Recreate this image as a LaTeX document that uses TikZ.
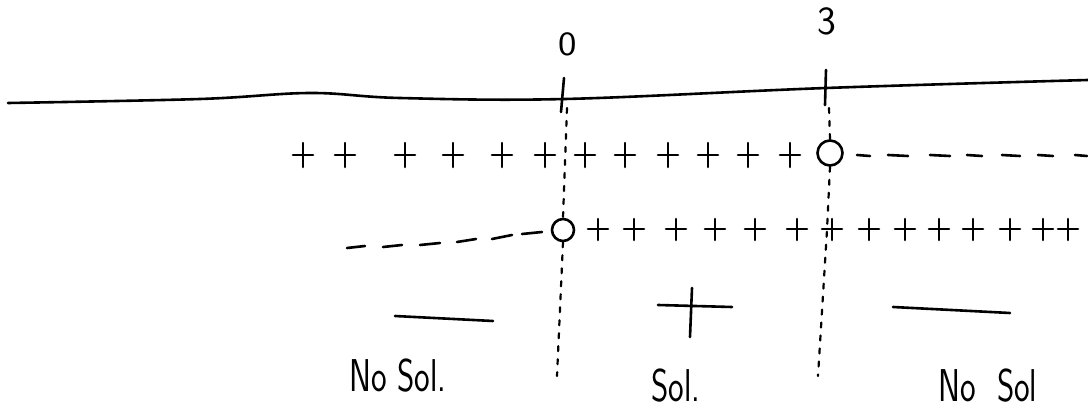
\documentclass[tikz,border=0pt]{standalone}
\usepackage{graphicx}
\begin{document}
\begin{tikzpicture}[x=1pt,y=-1pt, line cap=round, line join=round,
  pen/.style={line width=2.6pt},
  hole/.style={circle, draw, line width=2.6pt, inner sep=0pt},
  guide/.style={line width=2.2pt, dash pattern=on 5pt off 8pt},
  lbl/.style={font=\sffamily\fontsize{46}{46}\selectfont, inner sep=0pt},
  num/.style={font=\sffamily\fontsize{34}{34}\selectfont, inner sep=0pt}]
\useasboundingbox (0,0) rectangle (1088,417);
% number line
\draw[pen] plot[smooth, tension=0.6] coordinates
  {(8,103) (200,99) (310,93) (400,98) (565,99) (826,88) (1088,80)};
% ticks
\coordinate (t0a) at (564,78); \coordinate (t0b) at (561,112);
\coordinate (t3a) at (826,70); \coordinate (t3b) at (825,105);
\draw[pen] (t0a) -- (t0b);
\draw[pen] (t3a) -- (t3b);
\node[num] (l0) at (568,44) {\scalebox{1.15}[1]{0}};
\node[num, font=\sffamily\fontsize{40}{40}\selectfont] (l3) at (827,21) {3};
% holes
\node[hole, minimum size=22pt] (c0) at (563,230) {};
\node[hole, minimum size=25pt] (c3) at (830,153) {};
% guide lines
\coordinate (g0top) at (567,108); \coordinate (g0bot) at (557,376);
\coordinate (g3top) at (829,108); \coordinate (g3bot) at (818,376);
\draw[guide] (g0top) -- (c0.north);
\draw[guide] (c0.south) -- (g0bot);
\draw[guide] (g3top) -- (c3.north);
\draw[guide] (c3.south) -- (827,230) -- (g3bot);
% row 1 pluses
\foreach \x in {303,345,405,453,502,545,585,625,668,708,748,790}
  \draw[pen] (\x-10,155) -- (\x+10,155) (\x,143) -- (\x,167);
% row 1 dashes
\foreach \a/\b in {857/870,888/908,930/950,967/982,1002/1020,1038/1053,1075/1087}
  \draw[pen] (\a,155) -- (\b,156);
% row 2 dashes
\draw[pen] (347,248) -- (365,246);
\draw[pen] (383,247) -- (402,245);
\draw[pen] (420,245) -- (440,243);
\draw[pen] (457,242) -- (476,239);
\draw[pen] (492,239) -- (512,235);
\draw[pen] (522,234) -- (542,232);
% row 2 pluses
\foreach \x in {598,634,676,715,755,797,832,869,905,939,973,1010,1043,1068}
  \draw[pen] (\x-10,229) -- (\x+10,229) (\x,219) -- (\x,240);
% region signs
\draw[pen] (395,316) -- (493,321);
\draw[pen] (658,305) -- (732,307) (692,288) -- (690,337);
\draw[pen] (893,307) -- (1010,313);
% labels
\node[lbl] (n1) at (398,376) {\scalebox{0.72}[1]{No Sol.}};
\node[lbl] (n2) at (676,386) {\scalebox{0.72}[1]{Sol.}};
\node[lbl] (n3) at (988,386) {\scalebox{0.72}[1]{No\ \ Sol}};
\end{tikzpicture}
\end{document}
